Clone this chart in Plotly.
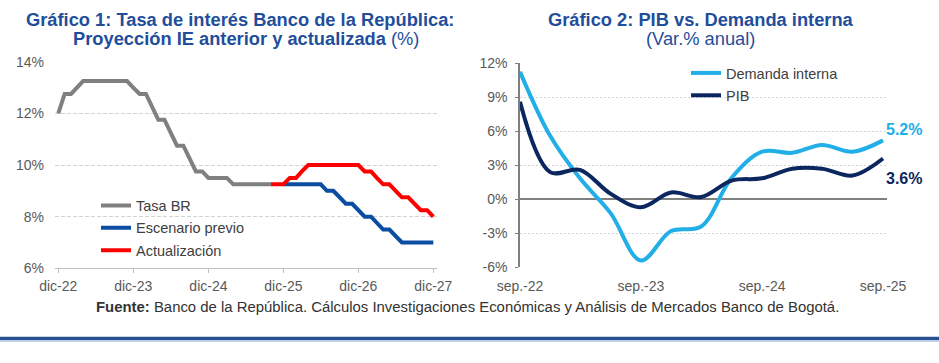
import plotly.graph_objects as go
import pandas as pd

FONT = "Liberation Sans, Arial, sans-serif"
W, H = 939, 363

# ---------------- Gráfico 1 data (monthly, dic-22 .. dic-27) ----------------
months = [d.strftime("%Y-%m-%d") for d in pd.date_range("2022-12-01", "2027-12-01", freq="MS")]

tasa_br = [12.0, 12.75, 12.75, 13.0, 13.25, 13.25, 13.25, 13.25, 13.25, 13.25, 13.25, 13.25,
           13.0, 12.75, 12.75, 12.25, 11.75, 11.75, 11.25, 10.75, 10.75, 10.25, 9.75, 9.75,
           9.5, 9.5, 9.5, 9.5, 9.25, 9.25, 9.25, 9.25, 9.25, 9.25, 9.25]
escenario_previo = [9.25, 9.25, 9.25, 9.25, 9.25, 9.25, 9.25, 9.0, 9.0, 8.75, 8.5, 8.5,
                    8.25, 8.0, 8.0, 7.75, 7.5, 7.5, 7.25, 7.0, 7.0, 7.0, 7.0, 7.0, 7.0]
actualizacion = [9.25, 9.25, 9.25, 9.5, 9.5, 9.75, 10.0, 10.0, 10.0, 10.0, 10.0, 10.0,
                 10.0, 10.0, 10.0, 9.75, 9.75, 9.5, 9.25, 9.25, 9.0, 8.75, 8.75, 8.5,
                 8.25, 8.25, 8.0]

x_tasa = months[:len(tasa_br)]
x_prev = months[-len(escenario_previo):]
x_act = months[-len(actualizacion):]

g1_tickvals = ["2022-12-01", "2023-12-01", "2024-12-01", "2025-12-01", "2026-12-01", "2027-12-01"]
g1_ticktext = ["dic-22", "dic-23", "dic-24", "dic-25", "dic-26", "dic-27"]
g1_yticks = [6, 8, 10, 12, 14]
g1_ytext = ["6%", "8%", "10%", "12%", "14%"]

# ---------------- Gráfico 2 data (quarterly, sep-22 .. sep-25) ----------------
quarters = ["2022-09-01", "2022-12-01", "2023-03-01", "2023-06-01", "2023-09-01",
            "2023-12-01", "2024-03-01", "2024-06-01", "2024-09-01", "2024-12-01",
            "2025-03-01", "2025-06-01", "2025-09-01"]
demanda_interna = [11.25, 5.6, 1.85, -1.2, -5.4, -2.8, -2.4, 1.9, 4.2, 4.1, 4.8, 4.2, 5.2]
pib = [8.6, 2.4, 2.6, 0.5, -0.7, 0.6, 0.2, 1.65, 1.85, 2.7, 2.7, 2.1, 3.6]

g2_tickvals = ["2022-09-01", "2023-09-01", "2024-09-01", "2025-09-01"]
g2_ticktext = ["sep.-22", "sep.-23", "sep.-24", "sep.-25"]
g2_yticks = [-6, -3, 0, 3, 6, 9, 12]
g2_ytext = ["-6%", "-3%", "0%", "3%", "6%", "9%", "12%"]

# colours
C_GREY = "#808080"
C_BLUE = "#0B4DA2"
C_RED = "#FF0000"
C_LIGHT = "#22AEE6"
C_NAVY = "#0C2660"
C_TITLE = "#1F4E9B"
C_TICK = "#595959"


def px(x):
    return x / W


def py(y):
    return 1 - y / H


fig = go.Figure()

# Gráfico 1 traces
fig.add_trace(go.Scatter(x=x_tasa, y=tasa_br, name="Tasa BR", mode="lines",
                         line=dict(color=C_GREY, width=4), xaxis="x", yaxis="y",
                         legend="legend", legendgroup="a"))
fig.add_trace(go.Scatter(x=x_prev, y=escenario_previo, name="Escenario previo", mode="lines",
                         line=dict(color=C_BLUE, width=4), xaxis="x", yaxis="y",
                         legend="legend", legendgroup="b"))
fig.add_trace(go.Scatter(x=x_act, y=actualizacion, name="Actualización", mode="lines",
                         line=dict(color=C_RED, width=4), xaxis="x", yaxis="y",
                         legend="legend", legendgroup="c"))

# Gráfico 2 traces
fig.add_trace(go.Scatter(x=quarters, y=demanda_interna, name="Demanda interna", mode="lines",
                         line=dict(color=C_LIGHT, width=4, shape="spline", smoothing=1.0),
                         xaxis="x2", yaxis="y2", legend="legend2", legendgroup="d"))
fig.add_trace(go.Scatter(x=quarters, y=pib, name="PIB", mode="lines",
                         line=dict(color=C_NAVY, width=4, shape="spline", smoothing=1.0),
                         xaxis="x2", yaxis="y2", legend="legend2", legendgroup="e"))

g1_xdom = [px(55), px(437)]
g1_ydom = [py(268.3), py(61.7)]
g2_xdom = [px(520), px(887)]
g2_ydom = [py(267.3), py(63.3)]
g2_yrange = [-6, 12]
zero_pos = g2_ydom[0] + (0 - g2_yrange[0]) / (g2_yrange[1] - g2_yrange[0]) * (g2_ydom[1] - g2_ydom[0])
g2_xrange = ["2022-09-01", "2025-09-13"]

tickfont = dict(family=FONT, size=14, color=C_TICK)

fig.update_layout(
    width=W, height=H,
    margin=dict(l=0, r=0, t=0, b=0, autoexpand=False),
    paper_bgcolor="white", plot_bgcolor="white",
    font=dict(family=FONT, color=C_TICK),
    xaxis=dict(domain=g1_xdom, anchor="y", type="date", range=["2022-11-15", "2027-12-19"],
               tickvals=g1_tickvals, ticktext=g1_ticktext, tickfont=tickfont, automargin=False,
               showline=True, linecolor="#BFBFBF", linewidth=1, ticks="outside", ticklen=4,
               tickcolor="#BFBFBF", showgrid=False, zeroline=False, ticklabelstandoff=1),
    yaxis=dict(domain=g1_ydom, anchor="x", range=[6, 14], tickvals=g1_yticks, ticktext=g1_ytext,
               tickfont=tickfont, showgrid=True, gridcolor="#D3D3D3", griddash="4px,2px",
               gridwidth=1, zeroline=False, showline=False, ticks="", ticklabelstandoff=10,
               automargin=False),
    xaxis2=dict(domain=g2_xdom, anchor="y2", type="date", range=g2_xrange,
                tickvals=g2_tickvals, ticktext=g2_ticktext, tickfont=tickfont, automargin=False,
                showline=False, ticks="", showgrid=False, zeroline=False, ticklabelstandoff=9),
    xaxis3=dict(overlaying="x2", anchor="free", position=zero_pos, type="date", range=g2_xrange,
                tickvals=g2_tickvals, showticklabels=False, ticks="outside", ticklen=4,
                tickcolor="#808080", tickwidth=1, showline=False, showgrid=False, zeroline=False,
                automargin=False),
    yaxis2=dict(domain=g2_ydom, anchor="x2", range=g2_yrange, tickvals=g2_yticks, ticktext=g2_ytext,
                tickfont=tickfont, showgrid=True, gridcolor="#D3D3D3", griddash="2px,2px",
                gridwidth=1, zeroline=True, zerolinecolor="#808080", zerolinewidth=1.5,
                showline=True, linecolor="#808080", linewidth=1.5, ticks="outside", ticklen=3,
                tickcolor="#808080", ticklabelstandoff=5, automargin=False),
    legend=dict(x=px(96), y=py(189.5), xanchor="left", yanchor="top", bgcolor="rgba(0,0,0,0)",
                font=dict(family=FONT, size=14.5, color="#404040"), traceorder="grouped",
                tracegroupgap=0.5, borderwidth=0),
    legend2=dict(x=px(686), y=py(57), xanchor="left", yanchor="top", bgcolor="rgba(0,0,0,0)",
                 font=dict(family=FONT, size=14.5, color="#404040"), traceorder="grouped",
                 tracegroupgap=0.5, borderwidth=0),
    showlegend=True,
)

ann = []
# titles
ann.append(dict(text="<b>Gráfico 1: Tasa de interés Banco de la República:</b>", x=px(240), y=py(19.7),
                xref="paper", yref="paper", showarrow=False, xanchor="center", yanchor="middle",
                font=dict(family=FONT, size=18.3, color=C_TITLE)))
ann.append(dict(text="<b>Proyección IE anterior y actualizada</b> (%)", x=px(246), y=py(38.7),
                xref="paper", yref="paper", showarrow=False, xanchor="center", yanchor="middle",
                font=dict(family=FONT, size=18.3, color=C_TITLE)))
ann.append(dict(text="<b>Gráfico 2: PIB vs. Demanda interna</b>", x=px(701), y=py(19.2),
                xref="paper", yref="paper", showarrow=False, xanchor="center", yanchor="middle",
                font=dict(family=FONT, size=18.3, color=C_TITLE)))
ann.append(dict(text="(Var.% anual)", x=px(700), y=py(38.2),
                xref="paper", yref="paper", showarrow=False, xanchor="center", yanchor="middle",
                font=dict(family=FONT, size=18.3, color=C_TITLE)))
# footer
ann.append(dict(text="<b>Fuente:</b> Banco de la República. Cálculos Investigaciones Económicas y "
                     "Análisis de Mercados Banco de Bogotá.",
                x=px(467), y=py(306.5), xref="paper", yref="paper", showarrow=False,
                xanchor="center", yanchor="middle", font=dict(family=FONT, size=14.9, color="#333333")))
# end labels
ann.append(dict(text=f"<b>{demanda_interna[-1]:.1f}%</b>", x=quarters[-1], y=demanda_interna[-1],
                xref="x2", yref="y2", showarrow=False, xanchor="left", yanchor="middle",
                xshift=1, yshift=11, font=dict(family=FONT, size=16, color=C_LIGHT)))
ann.append(dict(text=f"<b>{pib[-1]:.1f}%</b>", x=quarters[-1], y=pib[-1],
                xref="x2", yref="y2", showarrow=False, xanchor="left", yanchor="middle",
                xshift=1, yshift=-20, font=dict(family=FONT, size=16, color=C_NAVY)))
fig.update_layout(annotations=ann)

# bottom rule
fig.add_shape(type="line", xref="paper", yref="paper", x0=0, x1=1, y0=py(338.5), y1=py(338.5),
              line=dict(color="#27508F", width=3.5))
fig.add_shape(type="line", xref="paper", yref="paper", x0=0, x1=1, y0=py(341.2), y1=py(341.2),
              line=dict(color="#A9C1E3", width=1))

fig.write_html(
    "out.html",
    config={"displayModeBar": False},
    post_script="document.body.style.margin='0px';document.body.style.overflow='hidden';",
)
